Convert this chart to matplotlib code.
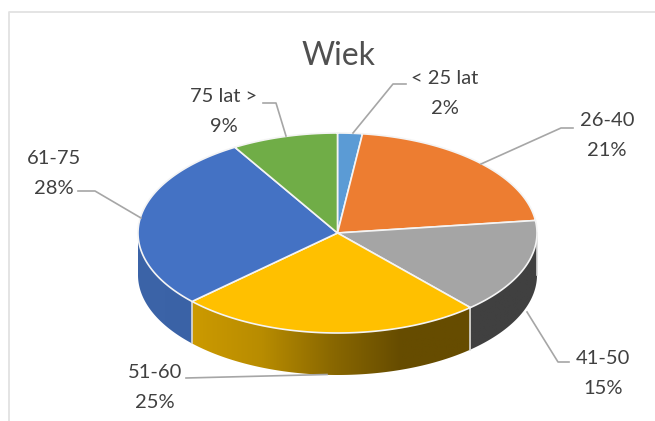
import numpy as np
import matplotlib
matplotlib.use('Agg')
import matplotlib.pyplot as plt
from matplotlib.colors import LinearSegmentedColormap
from matplotlib.patches import Polygon

plt.rcParams['font.family'] = ['Lato', 'DejaVu Sans']

categories = ['< 25 lat', '26-40', '41-50', '51-60', '61-75', '75 lat >']
values = [2, 21, 15.4, 24.6, 28.4, 8.6]
colors = ['#5b9bd5', '#ed7d31', '#a5a5a5', '#ffc000', '#4472c4', '#70ad47']

cx, cy, rx, ry, depth = 337.5, 233, 199.5, 100, 42
TEXT = '#404040'
LEADER = '#a6a6a6'


def rim(a0, a1):
    a = np.radians(np.linspace(a0, a1, 200))
    return cx + rx * np.sin(a), cy - ry * np.cos(a)


fig = plt.figure(figsize=(6.55, 4.21), dpi=100)
ax = fig.add_axes([0, 0, 1, 1])
ax.set_xlim(0, 655)
ax.set_ylim(421, 0)
ax.axis('off')

# chart frame, only left and top are in the crop
ax.plot([8.5, 8.5, 655], [421, 11.5, 11.5], color='#e2e2e2', lw=1.3)

edges = np.cumsum([0] + values) * 3.6

# side wall of the slices that face the viewer
sides = {
    2: ['#404040', '#404040'],
    3: ['#cc9a00', '#b88c00', '#8a6800', '#664c00', '#664c00'],
    4: ['#3c64a8', '#3a62a6'],
}
for i, stops in sides.items():
    a0, a1 = max(edges[i], 90), min(edges[i + 1], 270)
    x, y = rim(a0, a1)
    pts = np.r_[np.c_[x, y], np.c_[x[::-1], y[::-1] + depth]]
    clip = Polygon(pts, closed=True, fc='none', ec='none')
    ax.add_patch(clip)
    grad = np.linspace(0, 1, 256).reshape(1, -1)
    cmap = LinearSegmentedColormap.from_list('side', stops)
    im = ax.imshow(grad, cmap=cmap, extent=[x.min(), x.max(), y.max() + depth, y.min()],
                   aspect='auto', zorder=2)
    im.set_clip_path(clip)
    ax.plot([x[0], x[0]], [y[0], y[0] + depth], color='#d9d9d9', lw=1.2, zorder=3)

ax.set_xlim(0, 655)
ax.set_ylim(421, 0)

# top face
for i, c in enumerate(colors):
    x, y = rim(edges[i], edges[i + 1])
    ax.fill(np.r_[cx, x], np.r_[cy, y], fc=c, ec='#f4f4f4', lw=1.2, zorder=4, joinstyle='round')

# leader lines
leaders = [
    ([406, 393, 353], [84, 84, 133]),
    ([573, 561, 481], [128, 128, 164]),
    ([569, 558, 527], [362, 362, 312]),
    ([186, 327], [378, 374.5]),
    ([78, 95, 141], [191, 191, 218]),
    ([263, 276, 286], [103, 103, 136]),
]
for lx, ly in leaders:
    ax.plot(lx, ly, color=LEADER, lw=1.2, zorder=5)

ax.text(338, 56, 'Wiek', color='#505050', fontsize=23, ha='center', va='center')

labels = [(445, 78, 108), (607, 120, 151), (603, 358, 388), (155, 372, 403), (54, 158, 188), (224, 97, 126)]
for (name, v, (lx, y1, y2)) in zip(categories, values, labels):
    ax.text(lx, y1, name, color=TEXT, fontsize=14.5, ha='center', va='center')
    ax.text(lx, y2, '%.0f%%' % v, color=TEXT, fontsize=14.5, ha='center', va='center')

fig.savefig('out.png', dpi=100)
